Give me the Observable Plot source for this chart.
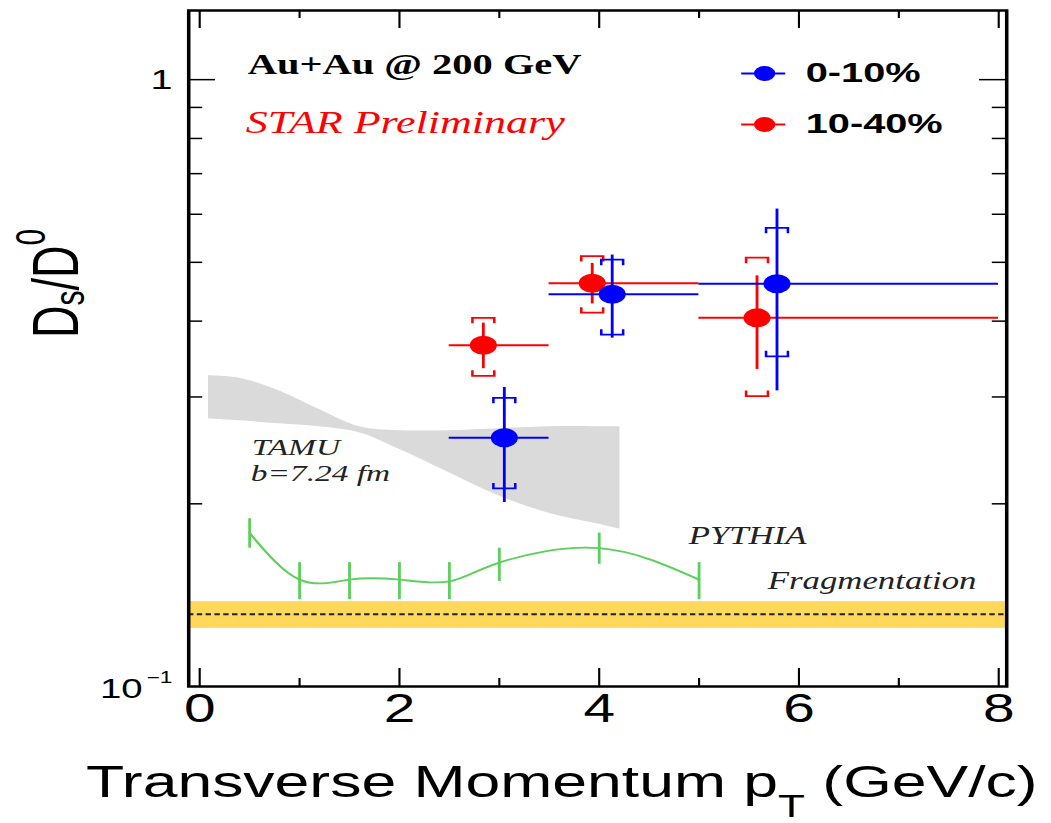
<!DOCTYPE html>
<html>
<head>
<meta charset="utf-8">
<script src="https://cdn.jsdelivr.net/npm/d3@7"></script>
<script src="https://cdn.jsdelivr.net/npm/@observablehq/plot@0.6"></script>
<style>
  body { margin: 0; background: #ffffff; }
  #chart svg { display: block; }
</style>
</head>
<body>
<div id="chart"></div>
<script>
// ---------------- data ----------------
const seriesNames = ["0-10%", "10-40%"];
const seriesColors = ["#0000ff", "#ff0000"];

const binLo = [2.5, 3.5, 5.0];
const binHi = [3.5, 5.0, 8.0];

// 0-10%
const pt_0_10      = [3.05, 4.13, 5.78];
const ratio_0_10   = [0.257, 0.443, 0.461];
const statLo_0_10  = [0.201, 0.375, 0.307];
const statHi_0_10  = [0.311, 0.514, 0.612];
const sysLo_0_10   = [0.212, 0.380, 0.350];
const sysHi_0_10   = [0.299, 0.505, 0.570];

// 10-40%
const pt_10_40     = [2.84, 3.93, 5.58];
const ratio_10_40  = [0.365, 0.462, 0.405];
const statLo_10_40 = [0.334, 0.427, 0.333];
const statHi_10_40 = [0.397, 0.498, 0.475];
const sysLo_10_40  = [0.325, 0.413, 0.301];
const sysHi_10_40  = [0.405, 0.512, 0.509];

// TAMU band (b = 7.24 fm)
const tamuPt   = [0.09, 0.4, 0.8, 1.2, 1.6, 2.0, 2.5, 3.0, 3.5, 4.0, 4.21];
const tamuLow  = [0.276, 0.274, 0.271, 0.268, 0.262, 0.246, 0.225, 0.206, 0.193, 0.185, 0.1816];
const tamuHigh = [0.325, 0.322, 0.307, 0.286, 0.268, 0.264, 0.264, 0.266, 0.268, 0.268, 0.268];

// PYTHIA
const pythiaPt    = [0.5, 1.0, 1.5, 2.0, 2.5, 3.0, 4.0, 5.0];
const pythiaRatio = [0.179, 0.150, 0.150, 0.150, 0.149, 0.160, 0.169, 0.150];
const pythiaLo    = [0.169, 0.139, 0.139, 0.139, 0.139, 0.149, 0.159, 0.139];
const pythiaHi    = [0.189, 0.160, 0.160, 0.160, 0.160, 0.169, 0.179, 0.160];

// Fragmentation
const fragRatio = [0.1315];
const fragLow   = [0.1247];
const fragHigh  = [0.138];

// axes
const xDomain = [-0.11, 8.08];
const yDomain = [0.1, 1.3];
const xTicksMajor = [0, 2, 4, 6, 8];
const xTicksMinor = [1, 3, 5, 7];
const yTicksMajor = [1];
const yTicksMinor = [0.2, 0.3, 0.4, 0.5, 0.6, 0.7, 0.8, 0.9];

// ---------------- layout ----------------
const W = 1051, H = 823;
const W0 = 740;              // drawing width before the horizontal stretch of the original image
const S = W / W0;
const marginLeft = 188 / S, marginRight = (W - 1006) / S, marginTop = 10, marginBottom = 137;
const innerW = W0 - marginLeft - marginRight;
const innerH = H - marginTop - marginBottom;

function buildSeries(i, pt, r, sl, sh, yl, yh) {
  return pt.map((x, k) => ({
    series: seriesNames[i], color: seriesColors[i], pt: x, ratio: r[k],
    statLo: sl[k], statHi: sh[k], sysLo: yl[k], sysHi: yh[k], binLo: binLo[k], binHi: binHi[k]
  }));
}
const s0 = buildSeries(0, pt_0_10, ratio_0_10, statLo_0_10, statHi_0_10, sysLo_0_10, sysHi_0_10);
const s1 = buildSeries(1, pt_10_40, ratio_10_40, statLo_10_40, statHi_10_40, sysLo_10_40, sysHi_10_40);
const tamu = tamuPt.map((x, i) => ({pt: x, lo: tamuLow[i], hi: tamuHigh[i]}));
const pythia = pythiaPt.map((x, i) => ({pt: x, r: pythiaRatio[i], lo: pythiaLo[i], hi: pythiaHi[i]}));
const frag = fragRatio.map((r, i) => ({r, lo: fragLow[i], hi: fragHigh[i]}));

const bracketTop = {draw(ctx) { ctx.moveTo(-7.7, 5.5); ctx.lineTo(-7.7, 0); ctx.lineTo(7.7, 0); ctx.lineTo(7.7, 5.5); }};
const bracketBottom = {draw(ctx) { ctx.moveTo(-7.7, -5.5); ctx.lineTo(-7.7, 0); ctx.lineTo(7.7, 0); ctx.lineTo(7.7, -5.5); }};
const legendLine = {draw(ctx) { ctx.moveTo(-15.5, 0); ctx.lineTo(15.5, 0); }};

function seriesMarks(data) {
  const c = data[0].color;
  return [
    Plot.ruleY(data, {y: "ratio", x1: "binLo", x2: "binHi", stroke: c, strokeWidth: 2}),
    Plot.ruleX(data, {x: "pt", y1: "statLo", y2: "statHi", stroke: c, strokeWidth: 2}),
    Plot.dot(data, {x: "pt", y: "sysHi", symbol: bracketTop, stroke: c, fill: "none", strokeWidth: 1.8}),
    Plot.dot(data, {x: "pt", y: "sysLo", symbol: bracketBottom, stroke: c, fill: "none", strokeWidth: 1.8}),
    Plot.dot(data, {x: "pt", y: "ratio", r: 9.5, fill: c, stroke: "none"})
  ];
}

function legendMarks(i) {
  const rowDy = 63 + 51 * i;
  return [
    Plot.dot([seriesNames[i]], {frameAnchor: "top-left", dx: 404.5, dy: rowDy, symbol: legendLine, stroke: seriesColors[i], fill: "none", strokeWidth: 2}),
    Plot.dot([seriesNames[i]], {frameAnchor: "top-left", dx: 405.5, dy: rowDy, r: 7.5, fill: seriesColors[i], stroke: "none"}),
    Plot.text([seriesNames[i]], {frameAnchor: "top-left", dx: 434.4, dy: rowDy - 0.5, text: d => d, textAnchor: "start", lineAnchor: "middle", fontWeight: "bold", fontSize: 28, fill: "#000"})
  ];
}

const green = "#5ccf5c";
const sans = "'Liberation Sans', Arial, Helvetica, sans-serif";
const serif = "'Liberation Serif', 'Times New Roman', serif";

const chart = Plot.plot({
  width: W0, height: H,
  marginLeft, marginRight, marginTop, marginBottom,
  style: {fontFamily: sans, background: "#ffffff", color: "#000"},
  x: {domain: xDomain, label: null},
  y: {type: "log", domain: yDomain, label: null},
  marks: [
    // Fragmentation band
    Plot.rect(frag, {x1: () => xDomain[0], x2: () => xDomain[1], y1: "lo", y2: "hi", fill: "#fdd85a"}),
    Plot.ruleY(frag, {y: "r", stroke: "#222", strokeWidth: 2, strokeDasharray: "3.8,2.4"}),
    // TAMU
    Plot.areaY(tamu, {x: "pt", y1: "lo", y2: "hi", fill: "#dadada", curve: "catmull-rom"}),
    // PYTHIA
    Plot.line(pythia, {x: "pt", y: "r", stroke: green, strokeWidth: 1.8, curve: "natural"}),
    Plot.ruleX(pythia, {x: "pt", y1: "lo", y2: "hi", stroke: green, strokeWidth: 2}),
    // data
    ...seriesMarks(s1),
    ...seriesMarks(s0),
    // frame and ticks
    Plot.ruleY(yTicksMajor, {y: d => d, insetRight: innerW - 19, stroke: "#000", strokeWidth: 1.5}),
    Plot.ruleY(yTicksMinor, {y: d => d, insetRight: innerW - 10, stroke: "#000", strokeWidth: 1.5}),
    Plot.ruleY(yTicksMajor, {y: d => d, insetLeft: innerW - 19, stroke: "#000", strokeWidth: 1.5}),
    Plot.ruleY(yTicksMinor, {y: d => d, insetLeft: innerW - 10, stroke: "#000", strokeWidth: 1.5}),
    Plot.ruleX(xTicksMajor, {x: d => d, insetTop: innerH - 18, stroke: "#000", strokeWidth: 1.5}),
    Plot.ruleX(xTicksMinor, {x: d => d, insetTop: innerH - 8, stroke: "#000", strokeWidth: 1.5}),
    Plot.ruleX(xTicksMajor, {x: d => d, insetBottom: innerH - 18, stroke: "#000", strokeWidth: 1.5}),
    Plot.ruleX(xTicksMinor, {x: d => d, insetBottom: innerH - 8, stroke: "#000", strokeWidth: 1.5}),
    Plot.frame({stroke: "#000", strokeWidth: 2.5}),
    // axes
    Plot.axisX(xTicksMajor, {tickSize: 0, tickPadding: 7, fontSize: 40, tickFormat: d => String(d), fill: "#000"}),
    Plot.axisY(yTicksMajor, {tickSize: 0, tickPadding: 11.3, fontSize: 28, tickFormat: d => String(d), fill: "#000"}),
    Plot.text([yDomain[0]], {y: d => d, frameAnchor: "left", textAnchor: "end", dx: -32.4, dy: 2.5, text: () => "10", fontSize: 27, fill: "#000"}),
    Plot.text([yDomain[0]], {y: d => d, frameAnchor: "left", textAnchor: "end", dx: -11.4, dy: -8.5, text: () => "\u22121", fontSize: 16, fill: "#000"}),
    // annotations
    Plot.text(["Au+Au @ 200 GeV"], {frameAnchor: "top-left", dx: 41.5, dy: 54, text: d => d, textAnchor: "start", lineAnchor: "middle", fontFamily: serif, fontWeight: "bold", fontSize: 28.5, fill: "#000"}),
    Plot.text(["STAR Preliminary"], {frameAnchor: "top-left", dx: 40.1, dy: 112.5, text: d => d, textAnchor: "start", lineAnchor: "middle", fontFamily: serif, fontStyle: "italic", fontSize: 31, fill: "#ff0000"}),
    Plot.text(["TAMU"], {frameAnchor: "top-left", dx: 44.3, dy: 437, text: d => d, textAnchor: "start", lineAnchor: "middle", fontFamily: serif, fontStyle: "italic", fontSize: 23.5, fill: "#222"}),
    Plot.text(["b=7.24 fm"], {frameAnchor: "top-left", dx: 43.7, dy: 463, text: d => d, textAnchor: "start", lineAnchor: "middle", fontFamily: serif, fontStyle: "italic", fontSize: 23.5, fill: "#222"}),
    Plot.text(["PYTHIA"], {frameAnchor: "top-left", dx: 352, dy: 525.5, text: d => d, textAnchor: "start", lineAnchor: "middle", fontFamily: serif, fontStyle: "italic", fontSize: 24.5, fill: "#222"}),
    Plot.text(["Fragmentation"], {frameAnchor: "top-left", dx: 407.7, dy: 570.5, text: d => d, textAnchor: "start", lineAnchor: "middle", fontFamily: serif, fontStyle: "italic", fontSize: 24.5, fill: "#222"}),
    // legend
    ...legendMarks(0),
    ...legendMarks(1)
  ]
});

// axis titles with sub/superscripts
const svg = d3.select(chart);
const xt = svg.append("text")
  .attr("x", 86 / S).attr("y", 797)
  .attr("text-anchor", "start")
  .attr("font-family", sans).attr("font-size", 44).attr("fill", "#000");
xt.append("tspan").text("Transverse Momentum p");
xt.append("tspan").attr("dy", 20).attr("font-size", 31).text("T");
xt.append("tspan").attr("dy", -20).text(" (GeV/c)");

const yt = svg.append("text")
  .attr("transform", `translate(${78 / S},283.5) rotate(-90)`)
  .attr("text-anchor", "middle")
  .attr("font-family", sans).attr("font-size", 45).attr("fill", "#000");
yt.append("tspan").text("D");
yt.append("tspan").attr("dy", 4).attr("font-size", 30).text("s");
yt.append("tspan").attr("dy", -4).text("/D");
yt.append("tspan").attr("dy", -23).attr("font-size", 30).text("0");

// horizontal stretch of the original figure
chart.setAttribute("width", W);
chart.setAttribute("height", H);
chart.setAttribute("viewBox", `0 0 ${W0} ${H}`);
chart.setAttribute("preserveAspectRatio", "none");
chart.style.width = W + "px";
chart.style.height = H + "px";
chart.style.maxWidth = "none";

document.getElementById("chart").appendChild(chart);
</script>
</body>
</html>
